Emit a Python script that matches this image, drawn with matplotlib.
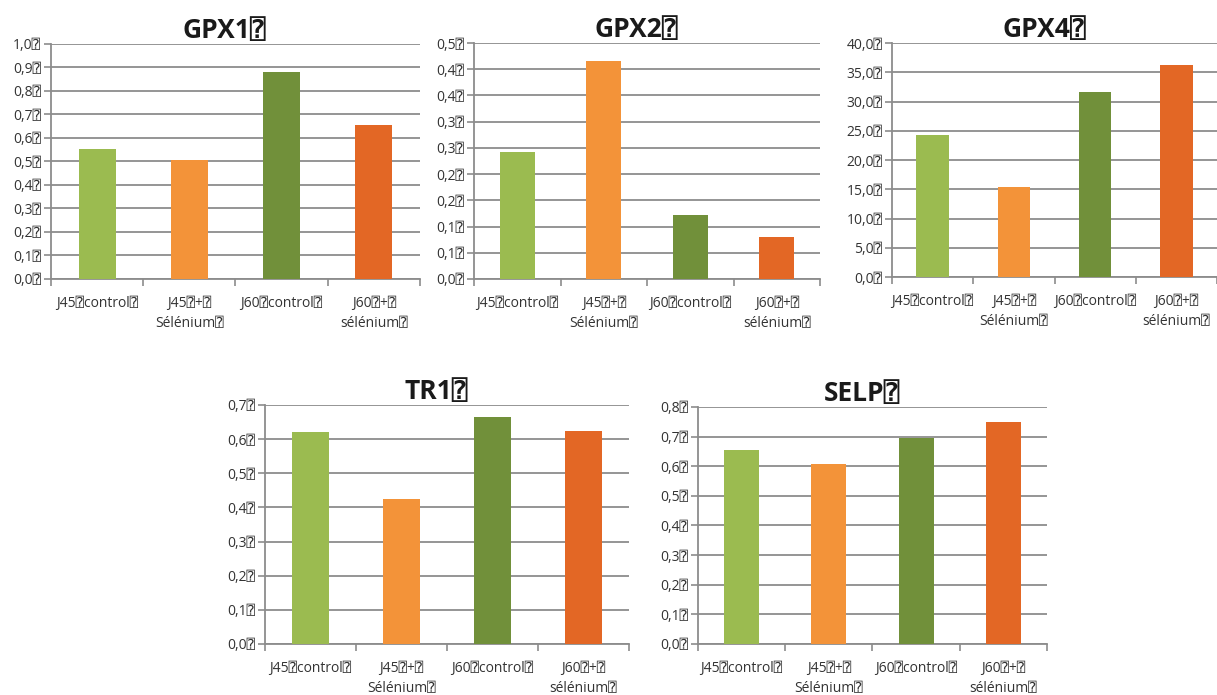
import numpy as np
import matplotlib.pyplot as plt

plt.rcParams['font.family'] = ['Open Sans', 'DejaVu Sans', 'DejaVu Sans Mono']

Q = '\u2370'  # the "missing glyph" box seen in the source

categories = ['J45' + Q + 'control' + Q, 'J45' + Q + '+' + Q + '\nSélénium' + Q,
              'J60' + Q + 'control' + Q, 'J60' + Q + '+' + Q + '\nsélénium' + Q]
colors = ['#9BBB50', '#F39339', '#71903A', '#E36725']

titles = ['GPX1', 'GPX2', 'GPX4', 'TR1', 'SELP']
gpx1 = [0.553, 0.506, 0.881, 0.655]
gpx2 = [0.242, 0.416, 0.122, 0.080]
gpx4 = [24.3, 15.4, 31.6, 36.2]
tr1 = [0.621, 0.425, 0.665, 0.624]
selp = [0.654, 0.607, 0.694, 0.748]
series = [gpx1, gpx2, gpx4, tr1, selp]

# y-axis limits and tick step per chart
ymax = [1.0, 0.45, 40.0, 0.7, 0.8]
ystep = [0.1, 0.05, 5.0, 0.1, 0.1]

# axes boxes [left, bottom, width, height] in figure fraction
boxes = [
    [0.0419, 0.5986, 0.3032, 0.3381],
    [0.3895, 0.5986, 0.2843, 0.3395],
    [0.7330, 0.6014, 0.2670, 0.3367],
    [0.2177, 0.0734, 0.2990, 0.3439],
    [0.5735, 0.0734, 0.2868, 0.3410],
]


def excel_fmt(v):
    # Excel rounds half up, with a decimal comma
    r = np.floor(v * 10 + 0.5 + 1e-9) / 10
    return f"{r:.1f}".replace('.', ',') + Q


fig = plt.figure(figsize=(12.17, 6.95), dpi=100)
grid_col = '#8C8C8C'

for title, vals, top, step, box in zip(titles, series, ymax, ystep, boxes):
    ax = fig.add_axes(box)
    x = np.arange(len(vals))
    ax.bar(x, vals, width=0.4, color=colors, zorder=3)
    ax.set_xlim(-0.5, len(vals) - 0.5)
    ax.set_ylim(0, top)

    yt = np.arange(0, top + step / 2, step)
    ax.set_yticks(yt)
    ax.set_yticklabels([excel_fmt(v) for v in yt])
    ax.yaxis.grid(True, color=grid_col, linewidth=1.3, zorder=0)

    # category boundaries carry the ticks, labels sit in the middle
    ax.set_xticks(np.arange(-0.5, len(vals), 1.0))
    ax.set_xticklabels([])
    ax.set_xticks(x, minor=True)
    ax.set_xticklabels(categories, minor=True, fontsize=10, color='#333333',
                       linespacing=1.45, va='top')
    ax.tick_params(axis='x', which='minor', length=0, pad=12)
    ax.tick_params(axis='x', which='major', length=5, color=grid_col, width=1.2)
    ax.tick_params(axis='y', length=5, color=grid_col, width=1.2,
                   labelsize=10, labelcolor='#333333', pad=2)

    for s in ['top', 'right']:
        ax.spines[s].set_visible(False)
    ax.spines['left'].set_color(grid_col)
    ax.spines['left'].set_linewidth(1.3)
    ax.spines['bottom'].set_color(grid_col)
    ax.spines['bottom'].set_linewidth(1.3)

    ax.set_title(title + Q, fontsize=19, fontweight='bold', color='#1a1a1a',
                 x=0.47, pad=3)

fig.savefig('out.png', dpi=100)
